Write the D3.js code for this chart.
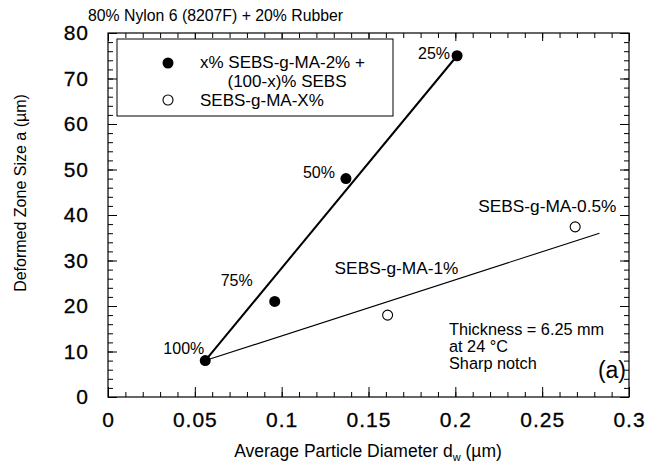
<!DOCTYPE html>
<html>
<head>
<meta charset="utf-8">
<script src="https://cdn.jsdelivr.net/npm/d3@7"></script>
<style>
  body { margin: 0; background: #fff; }
  svg { display: block; font-family: "Liberation Sans", Arial, sans-serif; }
  .axis path { display: none; }
  .axis line { stroke: #000; stroke-width: 1; }
  .axis text { font-size: 21px; fill: #000; letter-spacing: 1px; stroke: #000; stroke-width: 0.3; }
</style>
</head>
<body>
<svg width="649" height="467"></svg>
<script>
// x% SEBS-g-MA-2% + (100-x)% SEBS (filled)
var blendDiameter = [0.056, 0.096, 0.137, 0.201];
var blendZone = [8, 21, 48, 75];
var blendLabels = ["100%", "75%", "50%", "25%"];

// SEBS-g-MA-X% (open)
var graftDiameter = [0.161, 0.269];
var graftZone = [18, 37.4];
var graftLabels = ["SEBS-g-MA-1%", "SEBS-g-MA-0.5%"];

// trend lines
var blendFitD = [0.056, 0.201];
var blendFitA = [8, 75];
var graftFitD = [0.056, 0.283];
var graftFitA = [8, 36];

var xTicks = [0, 0.05, 0.1, 0.15, 0.2, 0.25, 0.3];
var yTicks = [0, 10, 20, 30, 40, 50, 60, 70, 80];

var svg = d3.select("svg");
var plotL = 108, plotR = 629, plotT = 33, plotB = 397;

var xScale = d3.scaleLinear().domain([0, 0.3]).range([plotL, plotR]);
var yScale = d3.scaleLinear().domain([0, 80]).range([plotB, plotT]);

var xMinor = d3.range(0, 0.3001, 0.01);
var yMinor = d3.range(0, 80.01, 2);

// frame
svg.append("rect")
  .attr("x", plotL).attr("y", plotT)
  .attr("width", plotR - plotL).attr("height", plotB - plotT)
  .attr("fill", "none").attr("stroke", "#000").attr("stroke-width", 1.2);

// bottom axis with labels
svg.append("g").attr("class", "axis")
  .attr("transform", "translate(0," + plotB + ")")
  .call(d3.axisBottom(xScale).tickValues(xTicks).tickSizeInner(-10).tickSizeOuter(0).tickPadding(15)
    .tickFormat(function(d) { return d === 0 ? "0" : String(+d.toFixed(2)); }));
svg.append("g").attr("class", "axis")
  .attr("transform", "translate(0," + plotB + ")")
  .call(d3.axisBottom(xScale).tickValues(xMinor).tickSizeInner(-5).tickSizeOuter(0).tickFormat(""));
// top axis
svg.append("g").attr("class", "axis")
  .attr("transform", "translate(0," + plotT + ")")
  .call(d3.axisTop(xScale).tickValues(xTicks).tickSizeInner(-8).tickSizeOuter(0).tickFormat(""));
svg.append("g").attr("class", "axis")
  .attr("transform", "translate(0," + plotT + ")")
  .call(d3.axisTop(xScale).tickValues(xMinor).tickSizeInner(-5).tickSizeOuter(0).tickFormat(""));

// left axis with labels
svg.append("g").attr("class", "axis")
  .attr("transform", "translate(" + plotL + ",0)")
  .call(d3.axisLeft(yScale).tickValues(yTicks).tickSizeInner(-9).tickSizeOuter(0).tickPadding(19));
svg.append("g").attr("class", "axis")
  .attr("transform", "translate(" + plotL + ",0)")
  .call(d3.axisLeft(yScale).tickValues(yMinor).tickSizeInner(-5).tickSizeOuter(0).tickFormat(""));
// right axis
svg.append("g").attr("class", "axis")
  .attr("transform", "translate(" + plotR + ",0)")
  .call(d3.axisRight(yScale).tickValues(yTicks).tickSizeInner(-9).tickSizeOuter(0).tickFormat(""));
svg.append("g").attr("class", "axis")
  .attr("transform", "translate(" + plotR + ",0)")
  .call(d3.axisRight(yScale).tickValues(yMinor).tickSizeInner(-5).tickSizeOuter(0).tickFormat(""));

// titles
svg.append("text")
  .attr("x", 88).attr("y", 21)
  .attr("font-size", 15.8)
  .text("80% Nylon 6 (8207F) + 20% Rubber");

var xt = svg.append("text")
  .attr("x", 368).attr("y", 457)
  .attr("text-anchor", "middle")
  .attr("font-size", 17.5);
xt.append("tspan").text("Average Particle Diameter d");
xt.append("tspan").attr("font-size", 11).attr("dy", 4).text("w");
xt.append("tspan").attr("dy", -4).text(" (\u00b5m)");

svg.append("text")
  .attr("transform", "translate(26,193) rotate(-90)")
  .attr("text-anchor", "middle")
  .attr("font-size", 16)
  .text("Deformed Zone Size a (\u00b5m)");

// trend lines
var line = d3.line()
  .x(function(d) { return xScale(d[0]); })
  .y(function(d) { return yScale(d[1]); });

svg.append("path")
  .datum(d3.zip(graftFitD, graftFitA))
  .attr("d", line)
  .attr("fill", "none").attr("stroke", "#000").attr("stroke-width", 1.1);

svg.append("path")
  .datum(d3.zip(blendFitD, blendFitA))
  .attr("d", line)
  .attr("fill", "none").attr("stroke", "#000").attr("stroke-width", 2);

// points
svg.append("g").selectAll("circle")
  .data(d3.zip(blendDiameter, blendZone))
  .enter().append("circle")
  .attr("cx", function(d) { return xScale(d[0]); })
  .attr("cy", function(d) { return yScale(d[1]); })
  .attr("r", 5.5)
  .attr("fill", "#000");

svg.append("g").selectAll("circle")
  .data(d3.zip(graftDiameter, graftZone))
  .enter().append("circle")
  .attr("cx", function(d) { return xScale(d[0]); })
  .attr("cy", function(d) { return yScale(d[1]); })
  .attr("r", 5)
  .attr("fill", "#fff").attr("stroke", "#000").attr("stroke-width", 1.1);

// point labels (offsets from each point)
var blendOffsets = [[-1, -7], [-22, -15], [-11, -1], [-7, 3]];
svg.append("g").selectAll("text")
  .data(blendLabels)
  .enter().append("text")
  .attr("x", function(d, i) { return xScale(blendDiameter[i]) + blendOffsets[i][0]; })
  .attr("y", function(d, i) { return yScale(blendZone[i]) + blendOffsets[i][1]; })
  .attr("text-anchor", "end")
  .attr("font-size", 16)
  .text(function(d) { return d; });

var graftOffsets = [[-53, -41], [-97, -15]];
svg.append("g").selectAll("text")
  .data(graftLabels)
  .enter().append("text")
  .attr("x", function(d, i) { return xScale(graftDiameter[i]) + graftOffsets[i][0]; })
  .attr("y", function(d, i) { return yScale(graftZone[i]) + graftOffsets[i][1]; })
  .attr("font-size", 17.3)
  .text(function(d) { return d; });

// conditions note
var note = svg.append("text").attr("font-size", 16.3);
["Thickness = 6.25 mm", "at 24 \u00b0C", "Sharp notch"].forEach(function(s, i) {
  note.append("tspan").attr("x", 449).attr("y", 335 + i * 17).text(s);
});
svg.append("text")
  .attr("x", 626).attr("y", 378)
  .attr("text-anchor", "end")
  .attr("font-size", 23)
  .text("(a)");

// legend
var legend = svg.append("g");
legend.append("rect")
  .attr("x", 117).attr("y", 39)
  .attr("width", 276).attr("height", 77)
  .attr("fill", "#fff").attr("stroke", "#000").attr("stroke-width", 1);
legend.append("circle").attr("cx", 168).attr("cy", 63).attr("r", 5.5).attr("fill", "#000");
legend.append("circle").attr("cx", 168).attr("cy", 100).attr("r", 5)
  .attr("fill", "#fff").attr("stroke", "#000").attr("stroke-width", 1.1);
legend.append("text").attr("x", 200).attr("y", 68).attr("font-size", 17).text("x% SEBS-g-MA-2% +");
legend.append("text").attr("x", 287).attr("y", 87).attr("text-anchor", "middle").attr("font-size", 17).text("(100-x)% SEBS");
legend.append("text").attr("x", 200).attr("y", 106).attr("font-size", 17).text("SEBS-g-MA-X%");
</script>
</body>
</html>
